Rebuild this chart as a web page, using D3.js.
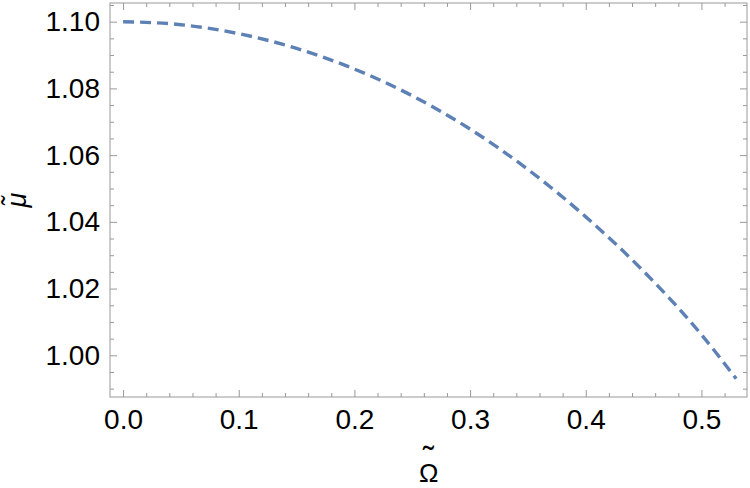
<!DOCTYPE html>
<html>
<head>
<meta charset="utf-8">
<script src="https://cdn.jsdelivr.net/npm/d3@7"></script>
<style>
    body { margin: 0; background: #fff; }
    svg { display: block; font-family: "Liberation Sans", Arial, sans-serif; }
</style>
</head>
<body>
<svg id="chart" width="750" height="488"></svg>
<script>
// values
const omega = [0, 0.05, 0.1, 0.15, 0.2, 0.25, 0.3, 0.35, 0.4, 0.45, 0.5, 0.53];
const mu = [1.1000, 1.0991, 1.0964, 1.0920, 1.0858, 1.0778, 1.0678, 1.0557, 1.0415, 1.0252, 1.0062, 0.9930];

const xMajor = [0, 0.1, 0.2, 0.3, 0.4, 0.5];
const xMinor = [0.02, 0.04, 0.06, 0.08, 0.12, 0.14, 0.16, 0.18, 0.22, 0.24, 0.26, 0.28,
    0.32, 0.34, 0.36, 0.38, 0.42, 0.44, 0.46, 0.48, 0.52];
const yMajor = [1.00, 1.02, 1.04, 1.06, 1.08, 1.10];
const yMinor = [0.99, 0.995, 1.005, 1.01, 1.015, 1.025, 1.03, 1.035, 1.045, 1.05, 1.055,
    1.065, 1.07, 1.075, 1.085, 1.09, 1.095, 1.105];

const plotLeft = 110, plotRight = 747, plotTop = 3, plotBottom = 397;
const frameColor = `#999`;
const lineColor = `#5E81B5`;
const fontSize = 28;

const svg = d3.select(`#chart`);

const xScale = d3.scaleLinear()
    .domain([-0.0113, 0.5394])
    .range([plotLeft, plotRight]);

const yScale = d3.scaleLinear()
    .domain([0.9875, 1.1056])
    .range([plotBottom, plotTop]);

const styleAxis = (g) => {
    g.attr(`font-size`, fontSize).attr(`font-family`, `"Liberation Sans", Arial, sans-serif`);
    g.select(`.domain`).remove();
    g.selectAll(`line`).attr(`stroke`, frameColor);
    g.selectAll(`text`).attr(`fill`, `#000`);
};

// bottom
svg.append(`g`).attr(`transform`, `translate(0,${plotBottom})`)
    .call(d3.axisBottom(xScale).tickValues(xMinor).tickSize(-4).tickFormat(``))
    .call(styleAxis);
svg.append(`g`).attr(`transform`, `translate(0,${plotBottom})`)
    .call(d3.axisBottom(xScale).tickValues(xMajor).tickSize(-7).tickPadding(12).tickFormat(d3.format(`.1f`)))
    .call(styleAxis);
// top
svg.append(`g`).attr(`transform`, `translate(0,${plotTop})`)
    .call(d3.axisTop(xScale).tickValues(xMinor).tickSize(-4).tickFormat(``))
    .call(styleAxis);
svg.append(`g`).attr(`transform`, `translate(0,${plotTop})`)
    .call(d3.axisTop(xScale).tickValues(xMajor).tickSize(-7).tickFormat(``))
    .call(styleAxis);
// left
svg.append(`g`).attr(`transform`, `translate(${plotLeft},0)`)
    .call(d3.axisLeft(yScale).tickValues(yMinor).tickSize(-4).tickFormat(``))
    .call(styleAxis);
svg.append(`g`).attr(`transform`, `translate(${plotLeft},0)`)
    .call(d3.axisLeft(yScale).tickValues(yMajor).tickSize(-7).tickPadding(10).tickFormat(d3.format(`.2f`)))
    .call(styleAxis);
// right
svg.append(`g`).attr(`transform`, `translate(${plotRight},0)`)
    .call(d3.axisRight(yScale).tickValues(yMinor).tickSize(-4).tickFormat(``))
    .call(styleAxis);
svg.append(`g`).attr(`transform`, `translate(${plotRight},0)`)
    .call(d3.axisRight(yScale).tickValues(yMajor).tickSize(-7).tickFormat(``))
    .call(styleAxis);

// frame
svg.append(`rect`)
    .attr(`x`, plotLeft)
    .attr(`y`, plotTop)
    .attr(`width`, plotRight - plotLeft)
    .attr(`height`, plotBottom - plotTop)
    .attr(`fill`, `none`)
    .attr(`stroke`, frameColor)
    .attr(`stroke-width`, 1);

const line = d3.line()
    .x((d, i) => xScale(omega[i]))
    .y(d => yScale(d))
    .curve(d3.curveMonotoneX);

svg.append(`path`)
    .datum(mu)
    .attr(`d`, line)
    .attr(`fill`, `none`)
    .attr(`stroke`, lineColor)
    .attr(`stroke-width`, 3.4)
    .attr(`stroke-dasharray`, `11,6`);

// axis labels: Omega with the tilde set above it (the accent sits on the glyph on purpose)
const xLabel = svg.append(`text`)
    .attr(`font-size`, 26);
xLabel.append(`tspan`)
    .attr(`x`, 423)
    .attr(`y`, 470)
    .attr(`font-size`, 33)
    .text(`\u02DC`);
xLabel.append(`tspan`)
    .attr(`x`, 419)
    .attr(`y`, 482)
    .text(`\u03A9`);

svg.append(`text`)
    .attr(`transform`, `translate(26,200) rotate(-90)`)
    .attr(`text-anchor`, `middle`)
    .attr(`font-size`, 27)
    .attr(`font-style`, `italic`)
    .text(`\u03BC\u0303`);
</script>
</body>
</html>
